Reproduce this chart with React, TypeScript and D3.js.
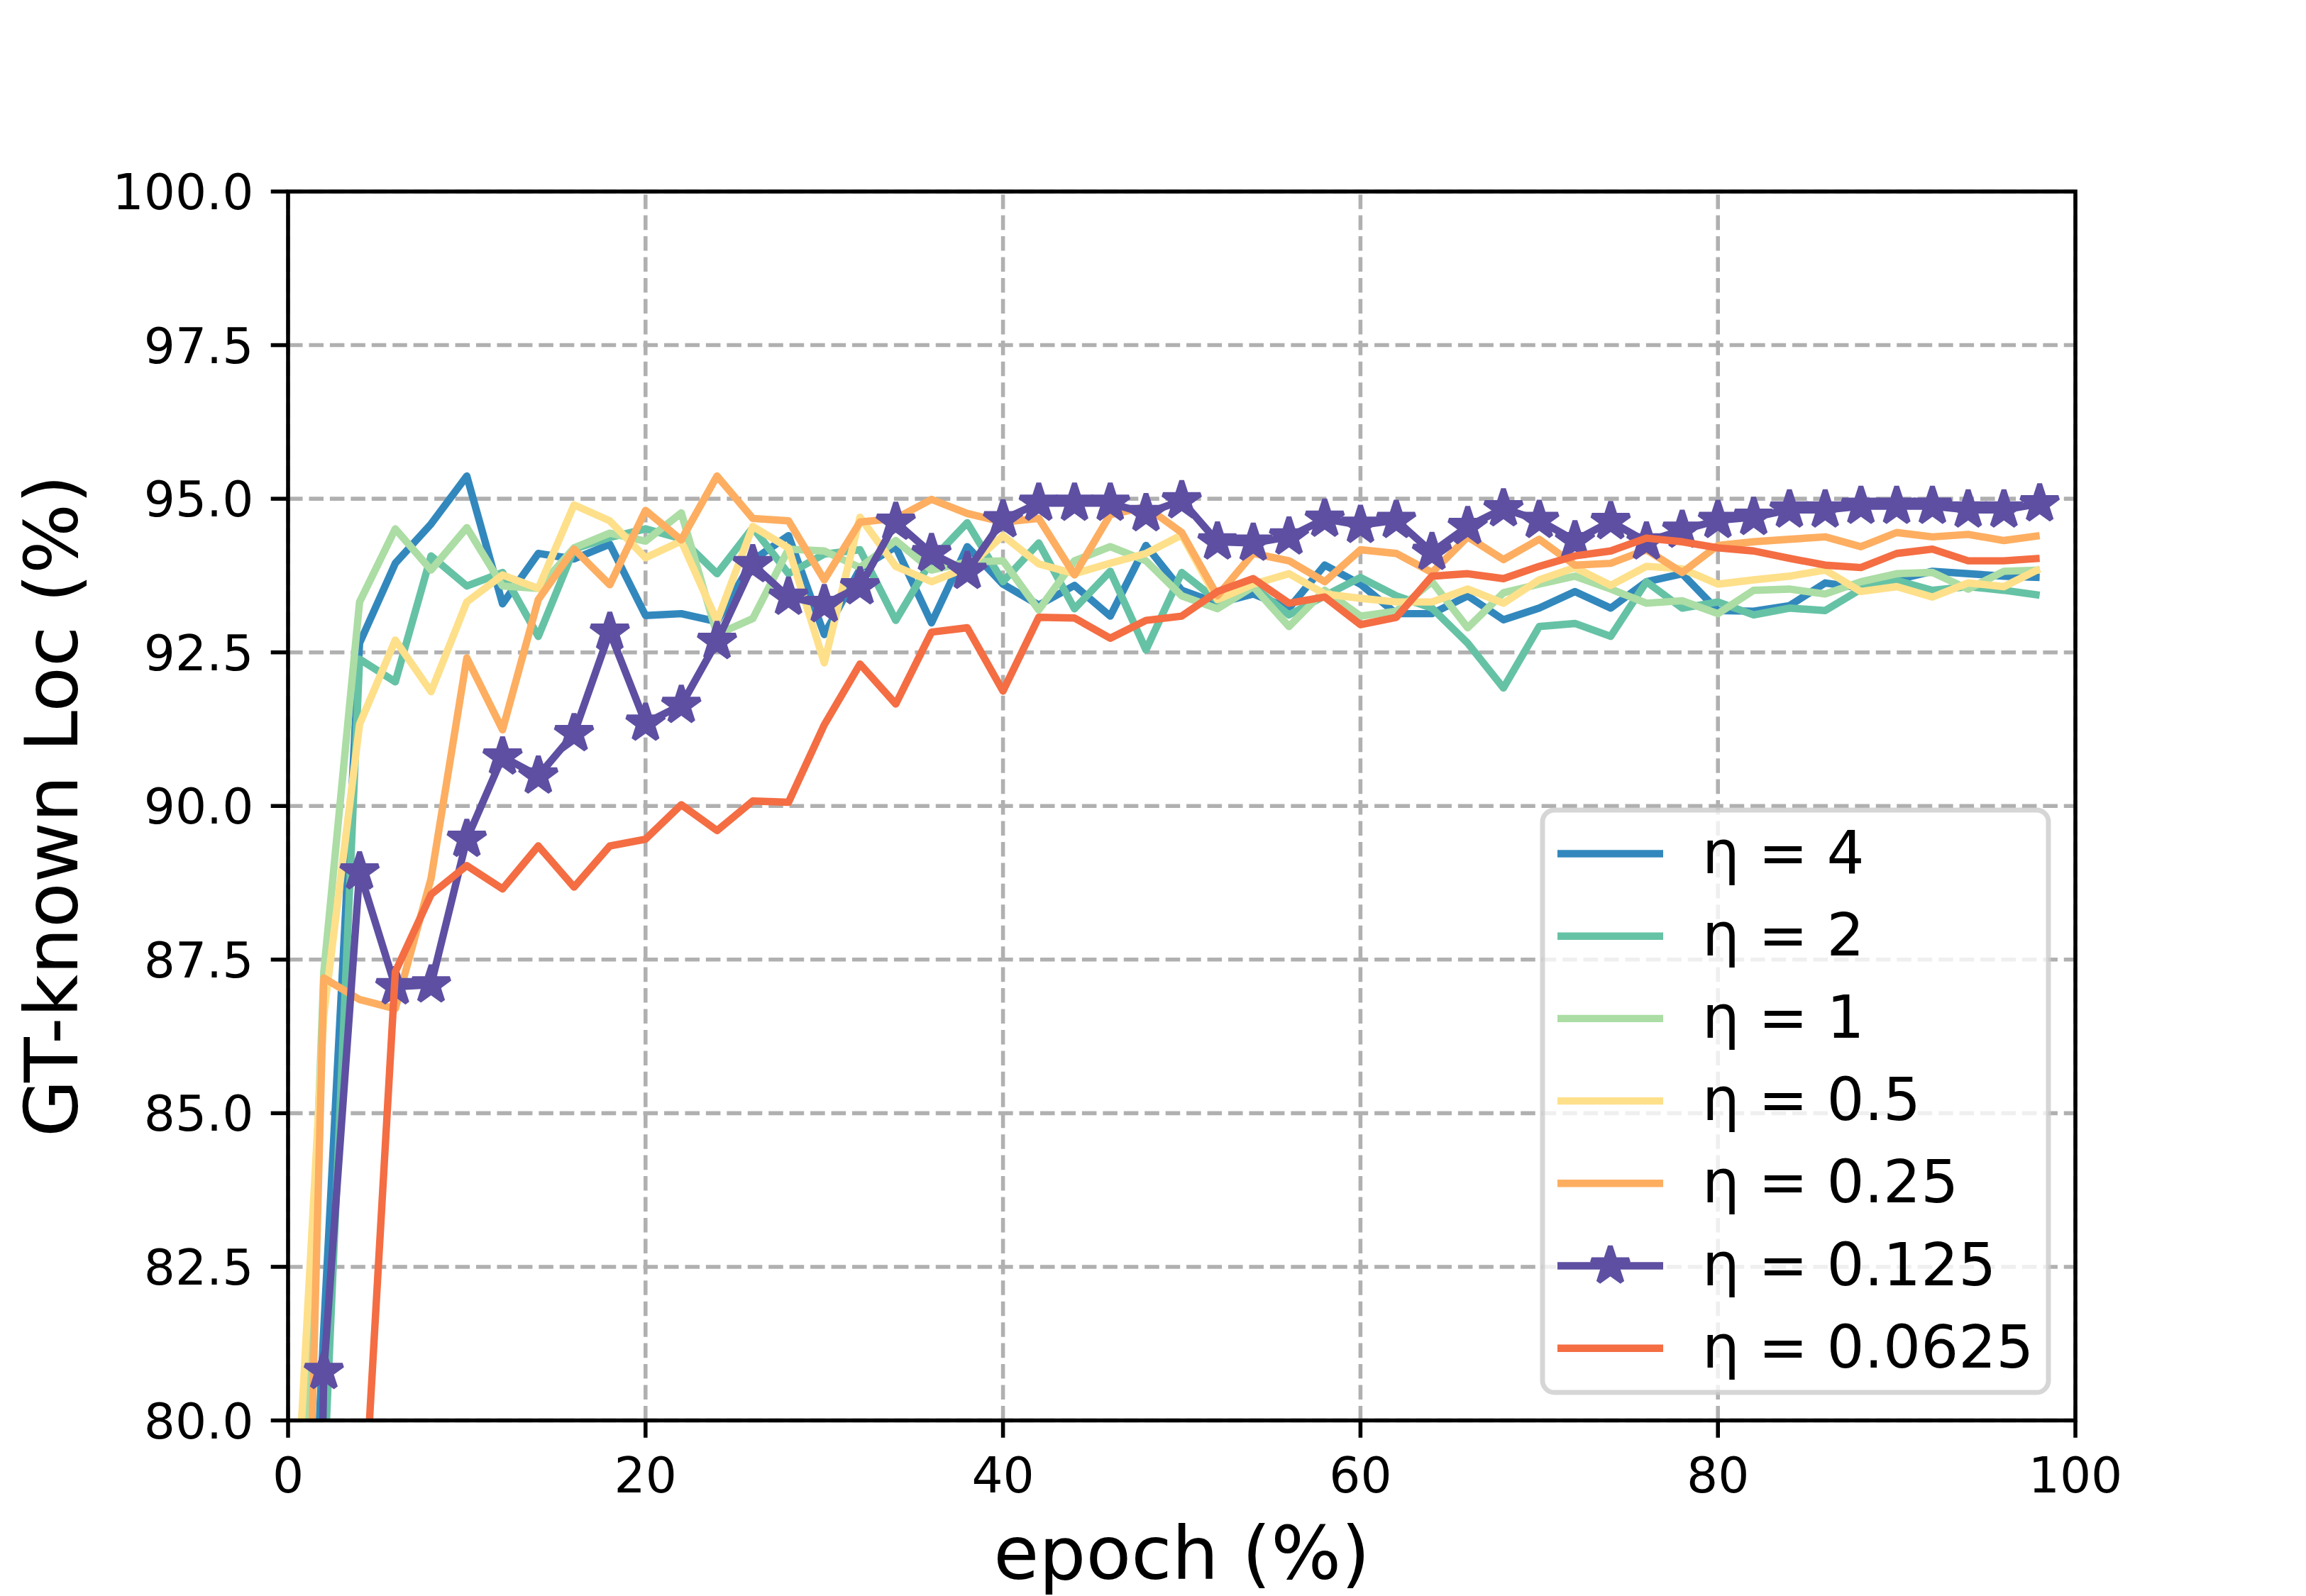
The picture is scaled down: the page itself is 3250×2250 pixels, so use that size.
import { useEffect, useRef } from "react";
import * as d3 from "d3";

// epoch (%) at which each value was logged
const epochs = [
  0, 2, 4, 6, 8, 10, 12, 14, 16, 18, 20, 22, 24, 26, 28, 30, 32, 34, 36, 38, 40, 42, 44, 46, 48,
  50, 52, 54, 56, 58, 60, 62, 64, 66, 68, 70, 72, 74, 76, 78, 80, 82, 84, 86, 88, 90, 92, 94, 96, 98,
];

const eta4 = [
  69.5, 81.5, 92.65, 93.95, 94.59, 95.37, 93.29, 94.11, 94.02, 94.26, 93.1, 93.13, 93.0, 94.0, 94.4,
  92.79, 93.86, 94.22, 92.98, 94.22, 93.61, 93.27, 93.59, 93.09, 94.24, 93.51, 93.3, 93.45, 93.22,
  93.92, 93.61, 93.13, 93.13, 93.42, 93.03, 93.22, 93.49, 93.22, 93.65, 93.78, 93.18, 93.17, 93.26,
  93.63, 93.55, 93.68, 93.82, 93.78, 93.74, 93.72,
];
const eta2 = [
  60.0, 79.0, 92.39, 92.02, 94.07, 93.58, 93.8, 92.76, 94.18, 94.37, 94.51, 94.35, 93.78, 94.53,
  93.78, 94.1, 94.17, 93.02, 94.0, 94.61, 93.65, 94.28, 93.21, 93.82, 92.54, 93.8, 93.34, 93.57,
  93.11, 93.42, 93.72, 93.42, 93.22, 92.65, 91.92, 92.92, 92.97, 92.76, 93.65, 93.22, 93.32, 93.11,
  93.22, 93.18, 93.53, 93.67, 93.51, 93.57, 93.51, 93.43,
];
const eta1 = [
  71.9, 87.3, 93.32, 94.51, 93.84, 94.53, 93.58, 93.54, 94.2, 94.44, 94.31, 94.77, 92.79, 93.05,
  94.18, 94.15, 93.88, 94.32, 93.84, 93.97, 93.99, 93.19, 93.99, 94.22, 93.99, 93.42, 93.21, 93.57,
  92.92, 93.51, 93.09, 93.17, 93.65, 92.9, 93.47, 93.61, 93.74, 93.53, 93.3, 93.34, 93.13, 93.51,
  93.53, 93.45, 93.65, 93.78, 93.8, 93.53, 93.82, 93.84,
];
const eta05 = [
  76.0, 86.6, 91.33, 92.7, 91.86, 93.32, 93.76, 93.54, 94.9, 94.64, 94.04, 94.31, 93.01, 94.55, 94.2,
  92.33, 94.7, 93.9, 93.65, 93.88, 94.4, 93.94, 93.78, 93.95, 94.11, 94.41, 93.36, 93.61, 93.78,
  93.45, 93.38, 93.32, 93.32, 93.53, 93.3, 93.68, 93.88, 93.59, 93.9, 93.86, 93.61, 93.68, 93.74,
  93.84, 93.49, 93.57, 93.4, 93.63, 93.57, 93.86,
];
const eta025 = [
  65.0, 87.2, 86.85, 86.7, 88.82, 92.41, 91.24, 93.36, 94.18, 93.6, 94.81, 94.33, 95.37, 94.68,
  94.64, 93.68, 94.62, 94.68, 94.99, 94.76, 94.62, 94.68, 93.76, 94.74, 94.87, 94.45, 93.42, 94.11,
  93.99, 93.65, 94.17, 94.11, 93.8, 94.38, 94.01, 94.34, 93.92, 93.95, 94.17, 93.8, 94.24, 94.3,
  94.34, 94.38, 94.22, 94.45, 94.38, 94.42, 94.32, 94.4,
];
const eta0125 = [
  49.0, 80.8, 88.93, 87.06, 87.09, 89.46, 90.8, 90.49, 91.18, 92.83, 91.35, 91.64, 92.68, 93.93,
  93.4, 93.28, 93.57, 94.62, 94.11, 93.82, 94.66, 94.93, 94.93, 94.93, 94.76, 94.97, 94.3, 94.28,
  94.38, 94.67, 94.57, 94.65, 94.13, 94.55, 94.84, 94.65, 94.32, 94.63, 94.3, 94.49, 94.65, 94.7,
  94.82, 94.82, 94.88, 94.88, 94.88, 94.82, 94.82, 94.92,
];
const eta00625 = [
  40.0, 60.0, 77.2, 87.3, 88.56, 89.03, 88.65, 89.35, 88.68, 89.35, 89.46, 90.02, 89.6, 90.08, 90.06,
  91.32, 92.31, 91.66, 92.83, 92.9, 91.87, 93.07, 93.06, 92.73, 93.02, 93.09, 93.49, 93.7, 93.3,
  93.4, 92.95, 93.07, 93.74, 93.78, 93.7, 93.9, 94.07, 94.15, 94.36, 94.3, 94.2, 94.15, 94.03, 93.92,
  93.88, 94.11, 94.18, 93.99, 93.99, 94.03,
];

const seriesLabels = ["η = 4", "η = 2", "η = 1", "η = 0.5", "η = 0.25", "η = 0.125", "η = 0.0625"];
const xTicks = [0, 20, 40, 60, 80, 100];
const yTicks = [80, 82.5, 85, 87.5, 90, 92.5, 95, 97.5, 100];

const PT = 500 / 72; // figure was saved at 500 dpi

const App = () => {
  const svgRef = useRef<SVGSVGElement>(null);

  useEffect(() => {
    if (!svgRef.current) return;
    document.body.style.margin = "0";

    const svg = d3.select(svgRef.current);
    svg.selectAll("*").remove();

    const width = 3250;
    const height = 2250;
    const plot = { left: 406, right: 2925, top: 270, bottom: 2002.5 };
    const font = "DejaVu Sans, Liberation Sans, sans-serif";

    const x = d3.scaleLinear().domain([0, 100]).range([plot.left, plot.right]);
    const y = d3.scaleLinear().domain([80, 100]).range([plot.bottom, plot.top]);

    const spectral = d3.schemeSpectral[10];
    const series = [
      { label: seriesLabels[0], values: eta4, color: spectral[8], star: false },
      { label: seriesLabels[1], values: eta2, color: spectral[7], star: false },
      { label: seriesLabels[2], values: eta1, color: spectral[6], star: false },
      { label: seriesLabels[3], values: eta05, color: spectral[4], star: false },
      { label: seriesLabels[4], values: eta025, color: spectral[3], star: false },
      { label: seriesLabels[5], values: eta0125, color: spectral[9], star: true },
      { label: seriesLabels[6], values: eta00625, color: spectral[2], star: false },
    ];

    svg.attr("viewBox", `0 0 ${width} ${height}`);
    svg.append("rect").attr("width", width).attr("height", height).attr("fill", "#fff");

    svg
      .append("defs")
      .append("clipPath")
      .attr("id", "plot-clip")
      .append("rect")
      .attr("x", plot.left)
      .attr("y", plot.top)
      .attr("width", plot.right - plot.left)
      .attr("height", plot.bottom - plot.top);

    // Grid
    const gridW = 0.8 * PT;
    const dash = `${3.7 * gridW} ${1.6 * gridW}`;
    svg
      .append("g")
      .selectAll("line")
      .data(xTicks)
      .join("line")
      .attr("x1", (d) => x(d))
      .attr("x2", (d) => x(d))
      .attr("y1", plot.bottom)
      .attr("y2", plot.top)
      .attr("stroke", "#b0b0b0")
      .attr("stroke-width", gridW)
      .attr("stroke-dasharray", dash);
    svg
      .append("g")
      .selectAll("line")
      .data(yTicks)
      .join("line")
      .attr("x1", plot.left)
      .attr("x2", plot.right)
      .attr("y1", (d) => y(d))
      .attr("y2", (d) => y(d))
      .attr("stroke", "#b0b0b0")
      .attr("stroke-width", gridW)
      .attr("stroke-dasharray", dash);

    // Lines
    const line = d3
      .line<number>()
      .x((_, i) => x(epochs[i]))
      .y((d) => y(d));
    const starR = 0.5 * 8 * PT;
    const star = d3.symbol().type(d3.symbolStar).size((starR * starR) / 0.8908130915292852)();

    const lines = svg.append("g").attr("clip-path", "url(#plot-clip)");
    series.forEach((s) => {
      lines
        .append("path")
        .datum(s.values)
        .attr("d", line)
        .attr("fill", "none")
        .attr("stroke", s.color)
        .attr("stroke-width", 1.5 * PT)
        .attr("stroke-linejoin", "round");
      if (s.star) {
        lines
          .append("g")
          .selectAll("path")
          .data(s.values)
          .join("path")
          .attr("transform", (d, i) => `translate(${x(epochs[i])},${y(d)})`)
          .attr("d", star)
          .attr("fill", s.color)
          .attr("stroke", s.color)
          .attr("stroke-width", PT)
          .attr("stroke-linejoin", "bevel");
      }
    });

    // Spines and ticks
    const axisW = 0.8 * PT;
    const tickLen = 3.5 * PT;
    svg
      .append("rect")
      .attr("x", plot.left)
      .attr("y", plot.top)
      .attr("width", plot.right - plot.left)
      .attr("height", plot.bottom - plot.top)
      .attr("fill", "none")
      .attr("stroke", "#000")
      .attr("stroke-width", axisW);

    svg
      .append("g")
      .selectAll("line")
      .data(xTicks)
      .join("line")
      .attr("x1", (d) => x(d))
      .attr("x2", (d) => x(d))
      .attr("y1", plot.bottom)
      .attr("y2", plot.bottom + tickLen)
      .attr("stroke", "#000")
      .attr("stroke-width", axisW);
    svg
      .append("g")
      .selectAll("line")
      .data(yTicks)
      .join("line")
      .attr("x1", plot.left - tickLen)
      .attr("x2", plot.left)
      .attr("y1", (d) => y(d))
      .attr("y2", (d) => y(d))
      .attr("stroke", "#000")
      .attr("stroke-width", axisW);

    const tickFont = 10 * PT;
    svg
      .append("g")
      .selectAll("text")
      .data(xTicks)
      .join("text")
      .attr("x", (d) => x(d))
      .attr("y", 2104)
      .attr("text-anchor", "middle")
      .attr("font-family", font)
      .attr("font-size", tickFont)
      .text((d) => d3.format("d")(d));
    svg
      .append("g")
      .selectAll("text")
      .data(yTicks)
      .join("text")
      .attr("x", plot.left - 2 * tickLen)
      .attr("y", (d) => y(d) + 25)
      .attr("text-anchor", "end")
      .attr("font-family", font)
      .attr("font-size", tickFont)
      .text((d) => d3.format(".1f")(d));

    // Axis titles
    const labelFont = 15 * PT;
    svg
      .append("text")
      .attr("x", (plot.left + plot.right) / 2)
      .attr("y", 2226)
      .attr("text-anchor", "middle")
      .attr("font-family", font)
      .attr("font-size", labelFont)
      .text("epoch (%)");
    svg
      .append("text")
      .attr("transform", `translate(109,${(plot.top + plot.bottom) / 2}) rotate(-90)`)
      .attr("text-anchor", "middle")
      .attr("font-family", font)
      .attr("font-size", labelFont)
      .text("GT-known Loc (%)");

    // Legend
    const legendFont = 12 * PT;
    const legend = svg.append("g");
    legend
      .append("rect")
      .attr("x", 2174)
      .attr("y", 1142)
      .attr("width", 2887 - 2174)
      .attr("height", 1963 - 1142)
      .attr("rx", 0.2 * legendFont)
      .attr("fill", "#fff")
      .attr("fill-opacity", 0.8)
      .attr("stroke", "#cccccc")
      .attr("stroke-opacity", 0.8)
      .attr("stroke-width", PT);

    const rowY = (i: number) => 1203.5 + i * 116.2;
    const rows = legend
      .selectAll("g.row")
      .data(series)
      .join("g")
      .attr("class", "row")
      .attr("transform", (_, i) => `translate(0,${rowY(i)})`);
    rows
      .append("line")
      .attr("x1", 2195)
      .attr("x2", 2344)
      .attr("stroke", (d) => d.color)
      .attr("stroke-width", 1.5 * PT);
    rows
      .filter((d) => d.star)
      .append("path")
      .attr("transform", `translate(${(2195 + 2344) / 2},0)`)
      .attr("d", star)
      .attr("fill", (d) => d.color)
      .attr("stroke", (d) => d.color)
      .attr("stroke-width", PT)
      .attr("stroke-linejoin", "bevel");
    rows
      .append("text")
      .attr("x", 2399)
      .attr("y", 27)
      .attr("font-family", font)
      .attr("font-size", legendFont)
      .text((d) => d.label);
  }, []);

  return (
    <svg
      ref={svgRef}
      width={3250}
      height={2250}
      style={{ display: "block", position: "absolute", left: 0, top: 0 }}
    />
  );
};

export default App;
